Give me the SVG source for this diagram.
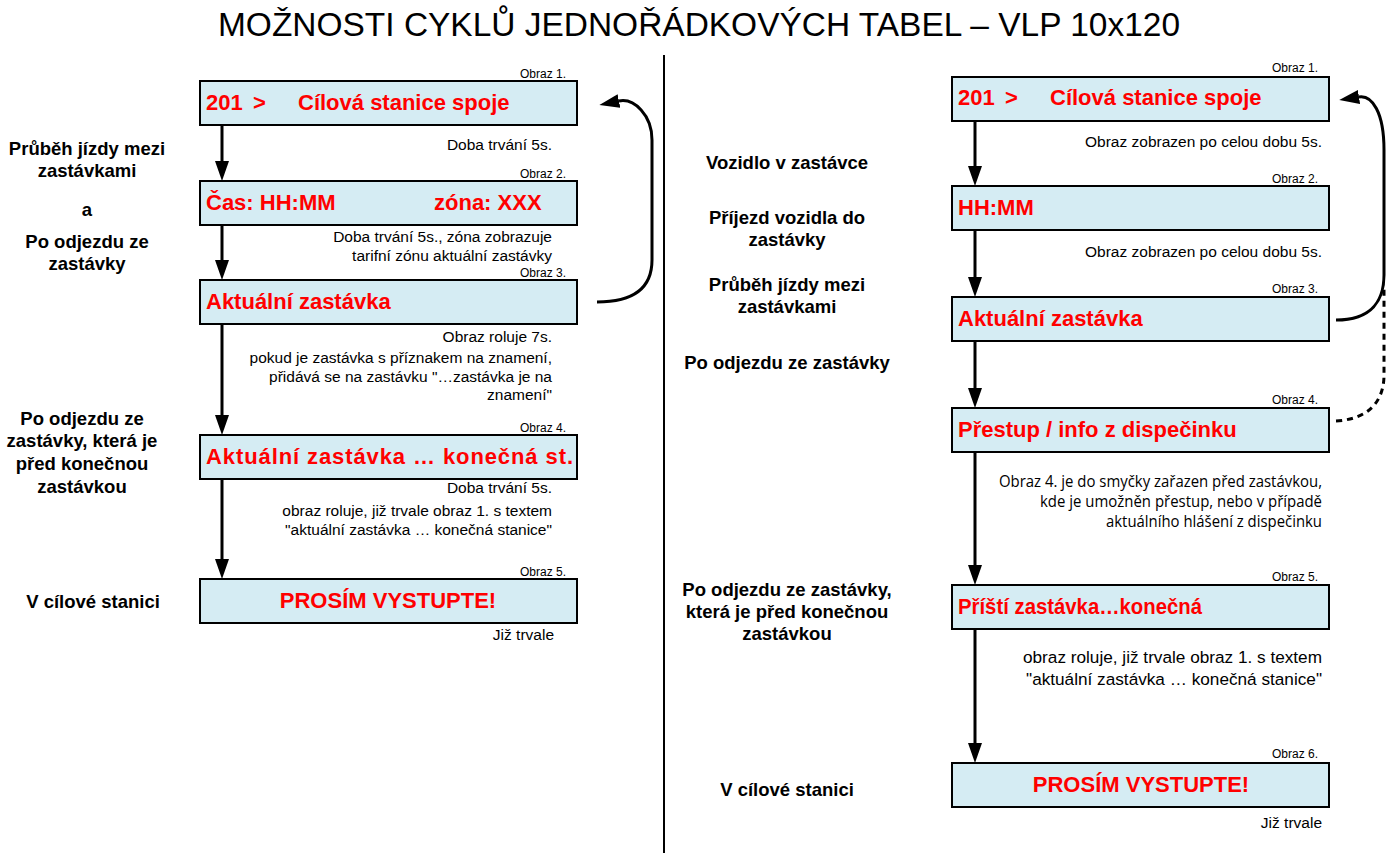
<svg xmlns="http://www.w3.org/2000/svg" width="1397" height="853" viewBox="0 0 1397 853">
<style>
.bg{fill:#ffffff}
.box{fill:#d5ecf3;stroke:#000;stroke-width:2}
.red{font-family:"Liberation Sans",Arial,sans-serif;font-weight:bold;font-size:22px;fill:#ff0000}
.lbl{font-family:"Liberation Sans",Arial,sans-serif;font-weight:bold;font-size:18.5px;fill:#000;text-anchor:middle}
.desc{font-family:"Liberation Sans",Arial,sans-serif;font-size:15.5px;fill:#000;text-anchor:end}
.descl{font-family:"Liberation Sans",Arial,sans-serif;font-size:17.2px;fill:#000;text-anchor:end}
.cal{font-family:"Open Sans","Liberation Sans",sans-serif;font-size:15.5px;fill:#000;text-anchor:end}
.obr{font-family:"Liberation Sans",Arial,sans-serif;font-size:12px;fill:#000;text-anchor:end}
.title{font-family:"Liberation Sans",Arial,sans-serif;font-size:33.3px;fill:#000;text-anchor:middle}
.conn{fill:none;stroke:#000;stroke-width:3}
.dash{fill:none;stroke:#000;stroke-width:3;stroke-dasharray:6 5}
</style>
<defs>
<marker id="ah" viewBox="0 0 20 14" refX="0" refY="7" markerWidth="20" markerHeight="14" markerUnits="userSpaceOnUse" orient="auto">
<path d="M0,0 L20,7 L0,14 z" fill="#000"/>
</marker>
</defs>
<rect class="bg" x="0" y="0" width="1397" height="853"/>
<text class="title" x="699" y="36" textLength="962" lengthAdjust="spacingAndGlyphs">MOŽNOSTI CYKLŮ JEDNOŘÁDKOVÝCH TABEL – VLP 10x120</text>
<line x1="664" y1="55" x2="664" y2="853" stroke="#000" stroke-width="2"/>

<g id="connectors">
<line class="conn" x1="222" y1="125" x2="222" y2="161" marker-end="url(#ah)"/>
<line class="conn" x1="222" y1="225" x2="222" y2="260" marker-end="url(#ah)"/>
<line class="conn" x1="222" y1="324" x2="222" y2="415" marker-end="url(#ah)"/>
<line class="conn" x1="222" y1="479" x2="222" y2="559" marker-end="url(#ah)"/>
<path class="conn" d="M597,302 C636,302 652,286 652,260 L652,140 C652,115 634,98 619,101" marker-end="url(#ah)"/>
<line class="conn" x1="975" y1="121" x2="975" y2="166" marker-end="url(#ah)"/>
<line class="conn" x1="975" y1="230" x2="975" y2="277" marker-end="url(#ah)"/>
<line class="conn" x1="975" y1="341" x2="975" y2="388" marker-end="url(#ah)"/>
<line class="conn" x1="975" y1="452" x2="975" y2="565" marker-end="url(#ah)"/>
<line class="conn" x1="975" y1="629" x2="975" y2="743" marker-end="url(#ah)"/>
<path class="conn" d="M1336,320 C1372,320 1384,300 1384,275 L1384,150 C1384,112 1372,95 1359,97" marker-end="url(#ah)"/>
<path class="dash" d="M1336,421 C1370,419 1384,400 1384,375 L1384,287"/>
</g>

<g id="left-labels">
<text class="lbl" x="87" y="155">Průběh jízdy mezi</text>
<text class="lbl" x="87" y="177">zastávkami</text>
<text class="lbl" x="87" y="216">a</text>
<text class="lbl" x="87" y="248">Po odjezdu ze</text>
<text class="lbl" x="87" y="270">zastávky</text>
<text class="lbl" x="82" y="425">Po odjezdu ze</text>
<text class="lbl" x="82" y="447">zastávky, která je</text>
<text class="lbl" x="82" y="470">před konečnou</text>
<text class="lbl" x="82" y="493">zastávkou</text>
<text class="lbl" x="93" y="608">V cílové stanici</text>
</g>

<g id="L1">
<text class="obr" x="566" y="78">Obraz 1.</text>
<rect class="box" x="200" y="81" width="377" height="44"/>
<text class="red" x="206" y="110">201</text>
<text class="red" x="253" y="110">&gt;</text>
<text class="red" x="298" y="110">Cílová stanice spoje</text>
<text class="desc" x="552" y="150">Doba trvání 5s.</text>
</g>
<g id="L2">
<text class="obr" x="566" y="178">Obraz 2.</text>
<rect class="box" x="200" y="181" width="377" height="44"/>
<text class="red" x="206" y="210">Čas: HH:MM</text>
<text class="red" x="434" y="210">zóna: XXX</text>
<text class="desc" x="552" y="242">Doba trvání 5s., zóna zobrazuje</text>
<text class="desc" x="552" y="261">tarifní zónu aktuální zastávky</text>
</g>
<g id="L3">
<text class="obr" x="566" y="277">Obraz 3.</text>
<rect class="box" x="200" y="280" width="377" height="44"/>
<text class="red" x="206" y="309">Aktuální zastávka</text>
<text class="desc" x="552" y="342">Obraz roluje 7s.</text>
<text class="desc" x="552" y="363">pokud je zastávka s příznakem na znamení,</text>
<text class="desc" x="552" y="382">přidává se na zastávku "…zastávka je na</text>
<text class="desc" x="552" y="400">znamení"</text>
</g>
<g id="L4">
<text class="obr" x="566" y="432">Obraz 4.</text>
<rect class="box" x="200" y="435" width="377" height="44"/>
<text class="red" x="206" y="464" textLength="367" lengthAdjust="spacing">Aktuální zastávka … konečná st.</text>
<text class="desc" x="552" y="493">Doba trvání 5s.</text>
<text class="desc" x="552" y="516">obraz roluje, již trvale obraz 1. s textem</text>
<text class="desc" x="552" y="535">"aktuální zastávka … konečná stanice"</text>
</g>
<g id="L5">
<text class="obr" x="566" y="576">Obraz 5.</text>
<rect class="box" x="200" y="579" width="377" height="44"/>
<text class="red" x="388" y="608" text-anchor="middle">PROSÍM VYSTUPTE!</text>
<text class="desc" x="554" y="640">Již trvale</text>
</g>

<g id="right-labels">
<text class="lbl" x="787" y="169">Vozidlo v zastávce</text>
<text class="lbl" x="787" y="224">Příjezd vozidla do</text>
<text class="lbl" x="787" y="246">zastávky</text>
<text class="lbl" x="787" y="291">Průběh jízdy mezi</text>
<text class="lbl" x="787" y="313">zastávkami</text>
<text class="lbl" x="787" y="369">Po odjezdu ze zastávky</text>
<text class="lbl" x="787" y="596">Po odjezdu ze zastávky,</text>
<text class="lbl" x="787" y="618">která je před konečnou</text>
<text class="lbl" x="787" y="640">zastávkou</text>
<text class="lbl" x="787" y="796">V cílové stanici</text>
</g>

<g id="R1">
<text class="obr" x="1318" y="72">Obraz 1.</text>
<rect class="box" x="952" y="77" width="377" height="44"/>
<text class="red" x="958" y="105">201</text>
<text class="red" x="1005" y="105">&gt;</text>
<text class="red" x="1050" y="105">Cílová stanice spoje</text>
<text class="desc" x="1322" y="147">Obraz zobrazen po celou dobu 5s.</text>
</g>
<g id="R2">
<text class="obr" x="1318" y="183">Obraz 2.</text>
<rect class="box" x="952" y="186" width="377" height="44"/>
<text class="red" x="958" y="215">HH:MM</text>
<text class="desc" x="1322" y="257">Obraz zobrazen po celou dobu 5s.</text>
</g>
<g id="R3">
<text class="obr" x="1318" y="293">Obraz 3.</text>
<rect class="box" x="952" y="297" width="377" height="44"/>
<text class="red" x="958" y="326">Aktuální zastávka</text>
</g>
<g id="R4">
<text class="obr" x="1318" y="404">Obraz 4.</text>
<rect class="box" x="952" y="408" width="377" height="44"/>
<text class="red" x="958" y="437">Přestup / info z dispečinku</text>
<text class="cal" x="1322" y="487" textLength="323" lengthAdjust="spacingAndGlyphs">Obraz 4. je do smyčky zařazen před zastávkou,</text>
<text class="cal" x="1322" y="507" textLength="282" lengthAdjust="spacingAndGlyphs">kde je umožněn přestup, nebo v případě</text>
<text class="cal" x="1322" y="527" textLength="216" lengthAdjust="spacingAndGlyphs">aktuálního hlášení z dispečinku</text>
</g>
<g id="R5">
<text class="obr" x="1318" y="581">Obraz 5.</text>
<rect class="box" x="952" y="585" width="377" height="44"/>
<text class="red" x="958" y="614" textLength="244" lengthAdjust="spacingAndGlyphs">Příští zastávka…konečná</text>
<text class="descl" x="1322" y="663">obraz roluje, již trvale obraz 1. s textem</text>
<text class="descl" x="1322" y="685">"aktuální zastávka … konečná stanice"</text>
</g>
<g id="R6">
<text class="obr" x="1318" y="758">Obraz 6.</text>
<rect class="box" x="952" y="763" width="377" height="44"/>
<text class="red" x="1141" y="792" text-anchor="middle">PROSÍM VYSTUPTE!</text>
<text class="desc" x="1322" y="828">Již trvale</text>
</g>
</svg>
